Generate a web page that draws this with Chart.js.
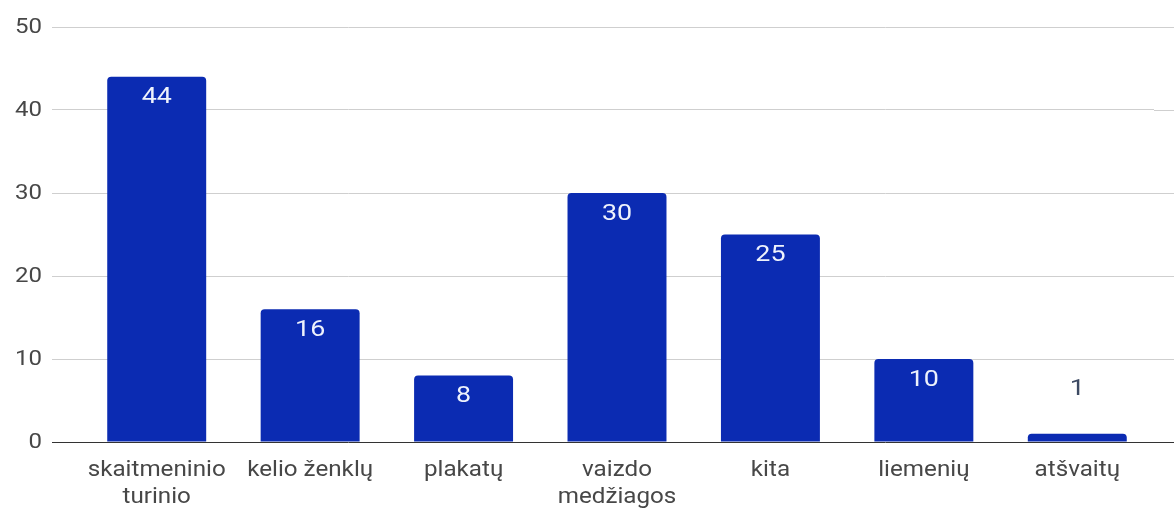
<!DOCTYPE html>
<html>
<head>
<meta charset="utf-8">
<script src="https://cdn.jsdelivr.net/npm/chart.js@4/dist/chart.umd.min.js"></script>
<style>
  html, body { margin: 0; padding: 0; background: #fff; }
  #wrap { width: 1174px; height: 511px; }
</style>
</head>
<body>
<div id="wrap"><canvas id="chart" width="1174" height="511"></canvas></div>
<script>
// --- data ---
const categories = [
    ['skaitmeninio', 'turinio'],
    ['kelio ženklų'],
    ['plakatų'],
    ['vaizdo', 'medžiagos'],
    ['kita'],
    ['liemenių'],
    ['atšvaitų']
];
const values = [44, 16, 8, 30, 25, 10, 1];
const yTicks = [0, 10, 20, 30, 40, 50];

const barColor = '#0b2bb2';
const gridColor = '#cfcfcf';
const zeroColor = '#333333';
const labelColor = '#474747';

// the source image is a bit wider than tall, so text gets a small horizontal stretch
function stretchText(ctx, text, x, y, align, sx) {
    ctx.save();
    ctx.translate(x, y);
    ctx.scale(sx, 1);
    ctx.textAlign = align;
    ctx.fillText(text, 0, 0);
    ctx.restore();
}

// gridlines stretch past the plot area to the right edge
const gridExtend = {
    id: 'gridExtend',
    beforeDatasetsDraw(chart) {
        const ctx = chart.ctx;
        const area = chart.chartArea;
        const y = chart.scales.y;
        ctx.save();
        yTicks.forEach(v => {
            const py = Math.round(y.getPixelForValue(v)) + 0.5;
            ctx.strokeStyle = v === 0 ? zeroColor : gridColor;
            ctx.lineWidth = 1;
            ctx.beginPath();
            ctx.moveTo(area.right, py);
            ctx.lineTo(chart.width, py);
            ctx.stroke();
        });
        ctx.restore();
    }
};

// axis labels drawn by hand so they can be stretched
const axisLabels = {
    id: 'axisLabels',
    afterDraw(chart) {
        const ctx = chart.ctx;
        const xs = chart.scales.x;
        const ys = chart.scales.y;
        ctx.save();
        ctx.fillStyle = labelColor;
        ctx.textBaseline = 'middle';

        ctx.font = '20px Roboto';
        yTicks.forEach(v => {
            stretchText(ctx, String(v), 42, ys.getPixelForValue(v) + 1, 'right', 1.2);
        });

        ctx.font = '22px Roboto';
        categories.forEach((lines, i) => {
            const cx = xs.getPixelForTick(i);
            lines.forEach((t, j) => {
                stretchText(ctx, t, cx, xs.top + 28 + j * 27, 'center', 1.1);
            });
        });
        ctx.restore();
    }
};

// value labels (white inside, dark above for short bars)
const valueLabels = {
    id: 'valueLabels',
    afterDatasetsDraw(chart) {
        const ctx = chart.ctx;
        const meta = chart.getDatasetMeta(0);
        ctx.save();
        ctx.font = '22px Roboto';
        ctx.textBaseline = 'middle';
        meta.data.forEach((bar, i) => {
            const h = bar.base - bar.y;
            if (h > 36) {
                ctx.fillStyle = '#eef2fc';
                stretchText(ctx, String(values[i]), bar.x, bar.y + 21, 'center', 1.22);
            } else {
                ctx.fillStyle = '#3d4a63';
                stretchText(ctx, String(values[i]), bar.x, bar.y - 44, 'center', 1.22);
            }
        });
        ctx.restore();
    }
};

new Chart(document.getElementById('chart'), {
    type: 'bar',
    data: {
        labels: categories,
        datasets: [{
            data: values,
            backgroundColor: barColor,
            borderRadius: { topLeft: 4, topRight: 4 },
            borderSkipped: 'bottom',
            barPercentage: 0.645,
            categoryPercentage: 1
        }]
    },
    options: {
        responsive: false,
        animation: false,
        layout: { padding: { top: 27, right: 20, left: 0, bottom: 0 } },
        plugins: {
            legend: { display: false },
            tooltip: { enabled: false }
        },
        scales: {
            x: {
                grid: { display: false, drawTicks: false },
                border: { display: false },
                ticks: { display: false },
                afterFit(scale) { scale.height = 69; }
            },
            y: {
                min: 0,
                max: 50,
                afterBuildTicks(scale) {
                    scale.ticks = yTicks.map(v => ({ value: v }));
                },
                grid: {
                    color: ctx => (ctx.tick && ctx.tick.value === 0) ? zeroColor : gridColor,
                    tickLength: 28,
                    tickColor: ctx => (ctx.tick && ctx.tick.value === 0) ? zeroColor : gridColor
                },
                border: { display: false },
                ticks: { display: false },
                afterFit(scale) { scale.width = 80; }
            }
        }
    },
    plugins: [gridExtend, valueLabels, axisLabels]
});
</script>
</body>
</html>
